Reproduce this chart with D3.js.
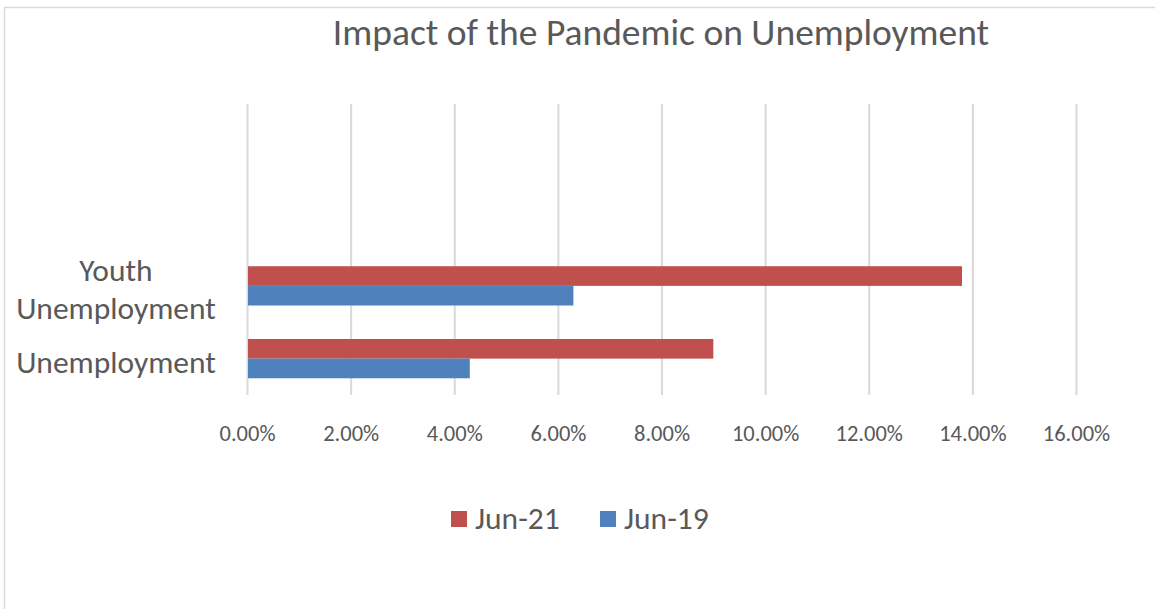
<!DOCTYPE html>
<html>
<head>
<meta charset="utf-8">
<script src="https://cdn.jsdelivr.net/npm/d3@7"></script>
<style>
  html, body { margin: 0; padding: 0; background: #fff; }
  svg { display: block; }
  text { font-family: Carlito, Calibri, Lato, "Open Sans", sans-serif; fill: #595959; }
</style>
</head>
<body>
<svg id="chart" width="1155" height="609"></svg>
<script>
// ---- data ----
const title = "Impact of the Pandemic on Unemployment";
const categories = ["Unemployment", "Youth Unemployment"];   // bottom to top
const categoryLines = [["Unemployment"], ["Youth", "Unemployment"]];
const blankSlots = ["blank1", "blank2"];                     // empty category slots above (as in source)
const seriesNames = ["Jun-21", "Jun-19"];
const jun21 = [0.090, 0.138];
const jun19 = [0.043, 0.063];
const tickValues = [0, 0.02, 0.04, 0.06, 0.08, 0.10, 0.12, 0.14, 0.16];
const colors = ["#C0504D", "#4F81BD"];

// ---- layout ----
const W = 1155, H = 609;
const plot = { left: 247, right: 1076, top: 104, bottom: 395 };
const svg = d3.select("#chart");

// chart frame (top and left edges visible)
svg.append("line").attr("x1", 4).attr("x2", W).attr("y1", 7.5).attr("y2", 7.5)
  .attr("stroke", "#d9d9d9").attr("stroke-width", 1.5);
svg.append("line").attr("x1", 4.5).attr("x2", 4.5).attr("y1", 7).attr("y2", H)
  .attr("stroke", "#d9d9d9").attr("stroke-width", 1.5);

// title
svg.append("text").attr("x", 661).attr("y", 45).attr("text-anchor", "middle")
  .style("font-size", "37.5px").style("font-weight", 300).text(title);

// scales
const x = d3.scaleLinear().domain([0, 0.16]).range([plot.left, plot.right]);
const yDomain = [...blankSlots, ...categories.slice().reverse()]; // top to bottom
const y = d3.scaleBand().domain(yDomain).range([plot.top, plot.bottom]).paddingInner(0.46).paddingOuter(0.23);
const ySub = d3.scaleBand().domain(seriesNames).range([0, y.bandwidth()]);

// gridlines + x axis
const xAxis = d3.axisBottom(x).tickValues(tickValues).tickFormat(d3.format(".2%"))
  .tickSizeInner(-(plot.bottom - plot.top)).tickSizeOuter(0).tickPadding(30);
const gx = svg.append("g").attr("transform", `translate(0,${plot.bottom})`).call(xAxis);
gx.select(".domain").remove();
gx.selectAll(".tick line").attr("stroke", "#d9d9d9").attr("stroke-width", 2);
gx.selectAll(".tick text").style("font-size", "22.5px").attr("fill", "#595959");

// bars
const series = [jun21, jun19];
series.forEach((vals, si) => {
  svg.append("g").selectAll("rect").data(categories.map((c, i) => ({ c, v: vals[i] })))
    .join("rect")
    .attr("x", x(0) + 1)
    .attr("y", d => y(d.c) + ySub(seriesNames[si]))
    .attr("width", d => x(d.v) - x(0) - 1)
    .attr("height", ySub.bandwidth())
    .attr("fill", colors[si]);
});

// category labels
const lineH = 38;
categories.forEach((c, i) => {
  const lines = categoryLines[i];
  const cy = y(c) + y.bandwidth() / 2;
  const t = svg.append("text").attr("text-anchor", "middle").style("font-size", "31.5px");
  lines.forEach((ln, li) => {
    t.append("tspan").attr("x", 116)
      .attr("y", cy + (li - (lines.length - 1) / 2) * lineH + 14)
      .text(ln);
  });
});

// legend
const legendItems = [{ name: seriesNames[0], color: colors[0], x: 451 }, { name: seriesNames[1], color: colors[1], x: 600 }];
const lg = svg.append("g");
legendItems.forEach(it => {
  lg.append("rect").attr("x", it.x).attr("y", 511).attr("width", 16).attr("height", 16).attr("fill", it.color);
  lg.append("text").attr("x", it.x + 24).attr("y", 529).style("font-size", "31.5px").text(it.name);
});
</script>
</body>
</html>
